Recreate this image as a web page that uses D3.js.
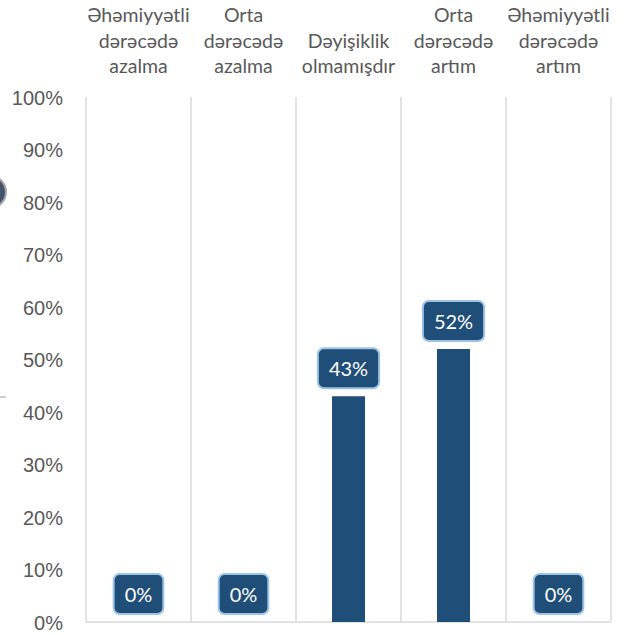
<!DOCTYPE html>
<html>
<head>
<meta charset="utf-8">
<script src="https://cdn.jsdelivr.net/npm/d3@7"></script>
<style>
  body { margin: 0; background: #fff; }
  svg { display: block; font-family: Lato, "Open Sans", sans-serif; }
  .tick text { fill: #595959; font-size: 20px; }
  .cat { fill: #595959; font-size: 19.5px; }
</style>
</head>
<body>
<svg width="627" height="635"></svg>
<script>
// categories (each split into lines) and values
var categories = [
    ["Əhəmiyyətli", "dərəcədə", "azalma"],
    ["Orta", "dərəcədə", "azalma"],
    ["Dəyişiklik", "olmamışdır"],
    ["Orta", "dərəcədə", "artım"],
    ["Əhəmiyyətli", "dərəcədə", "artım"]
];
var values = [0, 0, 0.43, 0.52, 0];
var yTicks = [0, 0.1, 0.2, 0.3, 0.4, 0.5, 0.6, 0.7, 0.8, 0.9, 1];

var svg = d3.select("svg");
// note: "top" is taken by window.top, so use plot* names
var plotLeft = 86, plotRight = 611, plotTop = 97, plotBottom = 622;

var x = d3.scaleBand().domain(d3.range(categories.length)).range([plotLeft, plotRight]);
var y = d3.scaleLinear().domain([0, 1]).range([plotBottom, plotTop]);

// little stray bits at the left edge of the original
svg.append("circle").attr("cx", -10).attr("cy", 192).attr("r", 16)
    .attr("fill", "#44546a").attr("stroke", "#a6a6a6").attr("stroke-width", 2);
svg.append("line").attr("x1", 0).attr("x2", 6).attr("y1", 397).attr("y2", 397)
    .attr("stroke", "#bfbfbf").attr("stroke-width", 1.5);

// vertical separators
var edges = d3.range(categories.length + 1).map(function(i) { return plotLeft + i * x.step(); });
svg.selectAll(".sep").data(edges).enter().append("line")
    .attr("class", "sep")
    .attr("x1", function(d) { return d; }).attr("x2", function(d) { return d; })
    .attr("y1", plotTop).attr("y2", plotBottom)
    .attr("stroke", "#d9d9d9").attr("stroke-width", 1.5);

svg.append("line").attr("x1", plotLeft).attr("x2", plotRight)
    .attr("y1", plotBottom).attr("y2", plotBottom)
    .attr("stroke", "#d9d9d9").attr("stroke-width", 1.5);

// y axis
var yAxis = svg.append("g")
    .attr("transform", "translate(" + (plotLeft - 23) + ",0)")
    .call(d3.axisLeft(y).tickValues(yTicks).tickFormat(d3.format(".0%")).tickSize(0).tickPadding(0));
yAxis.select(".domain").remove();
yAxis.selectAll("text").attr("dy", "0.35em");

// category labels, bottom aligned
var catG = svg.selectAll(".catg").data(categories).enter().append("g")
    .attr("class", "catg");
catG.each(function(lines, i) {
    var g = d3.select(this);
    var n = lines.length;
    lines.forEach(function(t, j) {
        g.append("text").attr("class", "cat")
            .attr("x", x(i) + x.bandwidth() / 2)
            .attr("y", 73 - (n - 1 - j) * 25.5)
            .attr("text-anchor", "middle")
            .text(t);
    });
});

// bars
var barW = 33;
svg.selectAll(".bar").data(values).enter().append("rect")
    .attr("class", "bar")
    .attr("x", function(d, i) { return x(i) + x.bandwidth() / 2 - barW / 2; })
    .attr("y", function(d) { return y(d); })
    .attr("width", barW)
    .attr("height", function(d) { return plotBottom - y(d); })
    .attr("fill", "#1f4e79");

// data labels
var lab = svg.selectAll(".lab").data(values).enter().append("g").attr("class", "lab");
lab.each(function(d, i) {
    var g = d3.select(this);
    var cx = x(i) + x.bandwidth() / 2;
    var by = y(d) - 8;
    var t = g.append("text")
        .attr("x", cx).attr("y", by - 12)
        .attr("text-anchor", "middle")
        .attr("fill", "#fff")
        .style("font-size", "20px")
        .text(d3.format(".0%")(d));
    var w = t.node().getComputedTextLength() + 22;
    g.insert("rect", "text")
        .attr("x", cx - w / 2).attr("y", by - 40)
        .attr("width", w).attr("height", 40)
        .attr("rx", 6)
        .attr("fill", "#1f4e79")
        .attr("stroke", "#9dc3e6").attr("stroke-width", 2);
});
</script>
</body>
</html>
